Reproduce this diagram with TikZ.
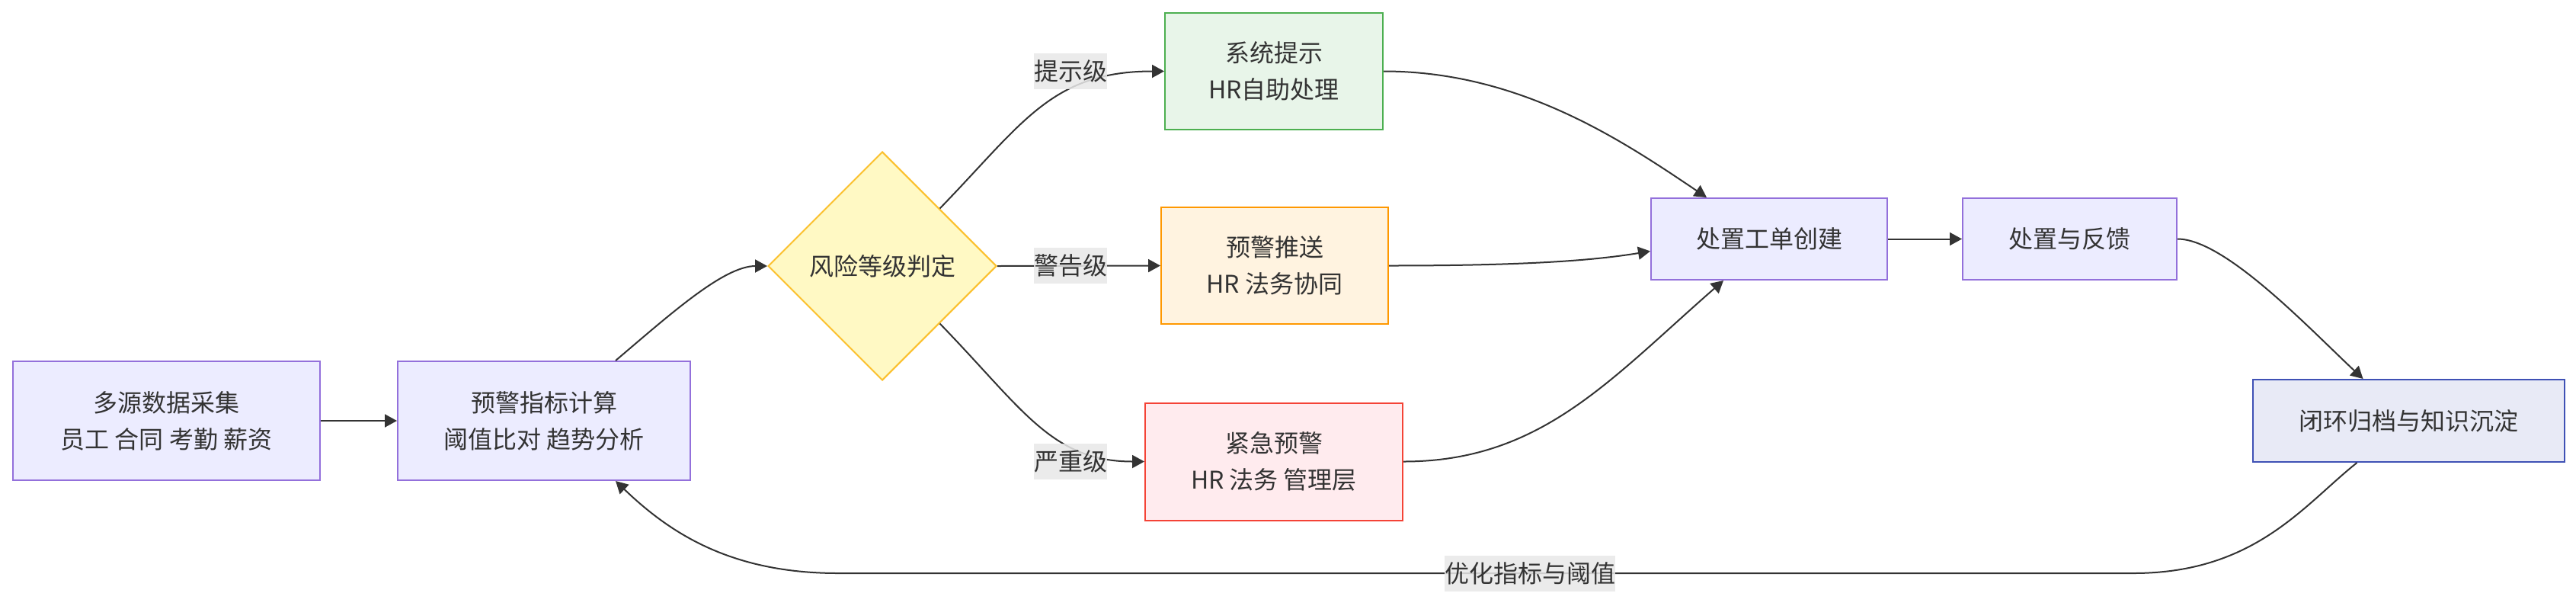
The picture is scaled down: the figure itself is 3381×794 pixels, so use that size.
\documentclass[tikz,border=0pt]{standalone}
\usepackage{fontspec}
\setmainfont{Noto Sans CJK SC}
\usetikzlibrary{shapes.geometric,arrows.meta,calc}
\definecolor{txt}{HTML}{333333}
\definecolor{edgec}{HTML}{333333}
\definecolor{defFill}{HTML}{ECECFF}
\definecolor{defDraw}{HTML}{9370DB}
\definecolor{yFill}{HTML}{FFF9C4}
\definecolor{yDraw}{HTML}{FBC02D}
\definecolor{gFill}{HTML}{E8F5E9}
\definecolor{gDraw}{HTML}{4CAF50}
\definecolor{oFill}{HTML}{FFF3E0}
\definecolor{oDraw}{HTML}{FF9800}
\definecolor{rFill}{HTML}{FFEBEE}
\definecolor{rDraw}{HTML}{F44336}
\definecolor{iFill}{HTML}{E8EAF6}
\definecolor{iDraw}{HTML}{3F51B5}
\definecolor{lblbg}{HTML}{E8E8E8}
\tikzset{
  box/.style={draw=defDraw, fill=defFill, line width=1pt, text=txt, align=center, inner sep=0pt},
  greenbox/.style={box, draw=gDraw, fill=gFill},
  orangebox/.style={box, draw=oDraw, fill=oFill},
  redbox/.style={box, draw=rDraw, fill=rFill},
  indigobox/.style={box, draw=iDraw, fill=iFill},
  decision/.style={diamond, aspect=1, draw=yDraw, fill=yFill, line width=1pt, text=txt, inner sep=0pt, minimum width=150pt, minimum height=150pt},
  edge/.style={draw=edgec, line width=1pt, -{Triangle[length=8pt,width=8.5pt]}},
  lbl/.style={fill=lblbg, fill opacity=0.85, text opacity=1, text=txt, inner xsep=0pt, inner ysep=0pt, minimum height=23.5pt}
}
\begin{document}
\begin{tikzpicture}[x=0.5pt, y=-0.5pt, font=\fontsize{16pt}{24pt}\selectfont]
\useasboundingbox (0,0) rectangle (3381,794);

\node[box, minimum width=201.5pt, minimum height=78pt] (A) at (218.5,552) {多源数据采集\\员工 合同 考勤 薪资};
\node[box, minimum width=192pt, minimum height=78pt] (B) at (714,552) {预警指标计算\\阈值比对 趋势分析};
\node[decision] (C) at (1158,349) {风险等级判定};
\node[greenbox, minimum width=143pt, minimum height=76.5pt] (D) at (1672,93.5) {系统提示\\HR自助处理};
\node[orangebox, minimum width=149pt, minimum height=76.5pt] (E) at (1673,348.5) {预警推送\\HR 法务协同};
\node[redbox, minimum width=169pt, minimum height=77pt] (F) at (1672,605.5) {紧急预警\\HR 法务 管理层};
\node[box, minimum width=155pt, minimum height=53.5pt] (G) at (2322,313.5) {处置工单创建};
\node[box, minimum width=140.5pt, minimum height=53.5pt] (H) at (2716.5,313.5) {处置与反馈};
\node[indigobox, minimum width=204.5pt, minimum height=54pt] (I) at (3161.5,552) {闭环归档与知识沉淀};

\draw[edge] (A) -- (B);
\draw[edge] ($(B.north)+(94,0)$) .. controls (880,412) and (950,349) .. (C.west);
\draw[edge] (C.north east) .. controls (1342,162) and (1380,93.5) .. (D.west);
\draw[edge] (C.east) -- (E.west);
\draw[edge] (C.south east) .. controls (1342,536) and (1380,605.5) .. (F.west);
\draw[edge] (D.east) .. controls (1995,93.5) and (2130,185) .. ($(G.north)+(-82,0)$);
\draw[edge] (E.east) .. controls (2000,348.5) and (2090,342) .. ($(G.west)+(0,16)$);
\draw[edge] (F.east) .. controls (2022,605.5) and (2112,499) .. ($(G.south)+(-60,0)$);
\draw[edge] (G) -- (H);
\draw[edge] (H.east) .. controls (2920,313.5) and (3030,430) .. ($(I.north)+(-60,0)$);
\draw[edge] ($(I.south)+(-68,0)$) .. controls (3024,662) and (2960,752) .. (2800,752) -- (1100,752) .. controls (960,752) and (880,700) .. ($(B.south)+(94,0)$);

\node[lbl] (L1) at (1405,93.5) {提示级};
\node[lbl] (L2) at (1405,348.5) {警告级};
\node[lbl] (L3) at (1405,605.5) {严重级};
\node[lbl] (L4) at (2008,752) {优化指标与阈值};
\end{tikzpicture}
\end{document}
